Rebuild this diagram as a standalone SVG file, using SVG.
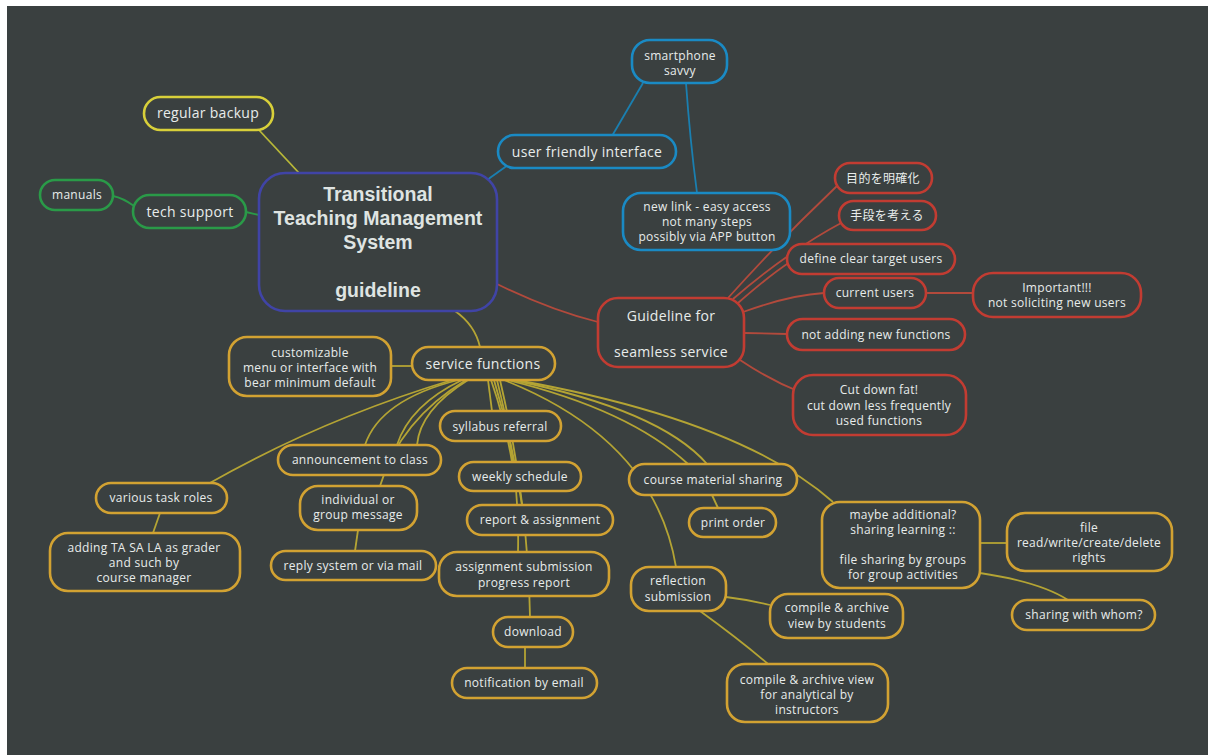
<svg xmlns="http://www.w3.org/2000/svg" width="1208" height="755" viewBox="0 0 1208 755">
<style>
.n rect{fill:#3a4040;stroke-width:2.6}
.y rect{stroke:#d2a232}
.r rect{stroke:#c23c32}
.b rect{stroke:#1a8ac4}
.g rect{stroke:#2a9a48}
.yl rect{stroke:#d8d03a}
.c rect{stroke:#4044a6}
text{font-family:"Open Sans","Noto Sans CJK JP",sans-serif;font-size:12px;fill:#e8eceb;text-anchor:middle;letter-spacing:0.3px}
.big{font-family:"Liberation Sans",Arial,sans-serif;font-size:19.5px;font-weight:bold;letter-spacing:0;fill:#dfe4e2}
.mid{font-size:14px}
#connectors path{fill:none;stroke-width:1.8}
.cy{stroke:#b4a434}
.cr{stroke:#b24a3c;stroke-width:1.4}
.cb{stroke:#1a7fb0}
.cg{stroke:#2a9a48}
.cyl{stroke:#b8b838}
</style>
<rect width="1208" height="755" fill="#ffffff"/>
<rect x="7" y="6" width="1201" height="749" fill="#3a4040"/>
<g id="connectors">
<path class="cyl" d="M258,129 L300,174"/>
<path class="cg" d="M113,196 Q123,198 134,206"/>
<path class="cg" d="M246,212 L259,215"/>
<path class="cb" d="M487,180 L508,165"/>
<path class="cb" d="M612,136 L643,83"/>
<path class="cb" d="M686,83 Q690,140 697,193"/>
<path class="cr" d="M497,284 Q550,310 598,322"/>
<path class="cr" d="M728,298 Q780,240 838,185"/>
<path class="cr" d="M733,299 Q790,250 843,222"/>
<path class="cr" d="M738,303 Q770,275 790,262"/>
<path class="cr" d="M743,312 Q790,295 824,293"/>
<path class="cr" d="M744,333 L787,334"/>
<path class="cr" d="M740,360 Q770,380 800,392"/>
<path class="cr" d="M926,293 L973,293"/>
<path class="cy" d="M455,311 Q475,325 480,347"/>
<path class="cy" d="M391,366 L412,366"/>
<path class="cy" d="M452,380 Q320,420 208,484"/>
<path class="cy" d="M458,380 Q380,400 365,445"/>
<path class="cy" d="M462,380 Q410,405 397,445"/>
<path class="cy" d="M466,380 Q400,420 380,486"/>
<path class="cy" d="M468,380 Q420,410 417,445"/>
<path class="cy" d="M488,380 L492,411"/>
<path class="cy" d="M491,380 Q505,420 512,462"/>
<path class="cy" d="M494,380 Q512,440 522,505"/>
<path class="cy" d="M497,380 Q520,470 518,552"/>
<path class="cy" d="M500,380 Q528,500 530,617"/>
<path class="cy" d="M525,647 L525,668"/>
<path class="cy" d="M508,380 Q630,410 688,464"/>
<path class="cy" d="M512,380 Q660,410 707,464"/>
<path class="cy" d="M712,495 L718,508"/>
<path class="cy" d="M504,380 Q655,440 676,567"/>
<path class="cy" d="M516,380 Q740,420 833,502"/>
<path class="cy" d="M160,513 L153,533"/>
<path class="cy" d="M358,530 L355,551"/>
<path class="cy" d="M726,597 Q750,600 770,605"/>
<path class="cy" d="M700,611 Q740,640 768,664"/>
<path class="cy" d="M980,543 L1007,543"/>
<path class="cy" d="M980,573 Q1040,582 1068,600"/>
</g>
<g id="central" class="n c"><rect x="259" y="173" width="238" height="138" rx="26"/>
<text class="big" x="378" y="201">Transitional</text><text class="big" x="378" y="225">Teaching Management</text><text class="big" x="378" y="249">System</text><text class="big" x="378" y="297">guideline</text></g>
<g id="regular-backup" class="n yl"><rect x="144" y="97" width="129" height="33" rx="16.5"/><text class="mid" x="208" y="118">regular backup</text></g>
<g id="manuals" class="n g"><rect x="40" y="180" width="73" height="30" rx="15"/><text x="77" y="199">manuals</text></g>
<g id="tech-support" class="n g"><rect x="133" y="195" width="113" height="33" rx="16.5"/><text class="mid" x="190" y="217">tech support</text></g>
<g id="user-friendly" class="n b"><rect x="498" y="135" width="178" height="33" rx="16.5"/><text class="mid" x="587" y="157">user friendly interface</text></g>
<g id="smartphone" class="n b"><rect x="632" y="40" width="95" height="43" rx="18"/><text x="680" y="60">smartphone</text><text x="680" y="75">savvy</text></g>
<g id="new-link" class="n b"><rect x="623" y="193" width="167" height="57" rx="18"/><text x="707" y="211">new link - easy access</text><text x="707" y="226">not many steps</text><text x="707" y="241">possibly via APP button</text></g>
<g id="guideline-seamless" class="n r"><rect x="598" y="298" width="146" height="69" rx="20"/><text class="mid" x="671" y="321">Guideline for</text><text class="mid" x="671" y="357">seamless service</text></g>
<g id="mokuteki" class="n r"><rect x="835" y="163" width="97" height="30" rx="15"/><text x="883" y="183">目的を明確化</text></g>
<g id="shudan" class="n r"><rect x="839" y="201" width="97" height="29" rx="14.5"/><text x="887" y="220">手段を考える</text></g>
<g id="define-target" class="n r"><rect x="787" y="244" width="168" height="30" rx="15"/><text x="871" y="263">define clear target users</text></g>
<g id="current-users" class="n r"><rect x="824" y="278" width="102" height="30" rx="15"/><text x="875" y="297">current users</text></g>
<g id="important" class="n r"><rect x="973" y="273" width="168" height="44" rx="20"/><text x="1057" y="292">Important!!!</text><text x="1057" y="307">not soliciting new users</text></g>
<g id="not-adding" class="n r"><rect x="787" y="319" width="178" height="31" rx="15.5"/><text x="876" y="339">not adding new functions</text></g>
<g id="cut-down" class="n r"><rect x="793" y="375" width="173" height="60" rx="20"/><text x="879" y="394">Cut down fat!</text><text x="879" y="410">cut down less frequently</text><text x="879" y="425">used functions</text></g>
<g id="service-functions" class="n y"><rect x="412" y="347" width="143" height="33" rx="16.5"/><text class="mid" x="483" y="369">service functions</text></g>
<g id="customizable" class="n y"><rect x="229" y="337" width="162" height="59" rx="18"/><text x="310" y="357">customizable</text><text x="310" y="372">menu or interface with</text><text x="310" y="387">bear minimum default</text></g>
<g id="syllabus" class="n y"><rect x="440" y="411" width="121" height="30" rx="15"/><text x="500" y="431">syllabus referral</text></g>
<g id="announcement" class="n y"><rect x="278" y="445" width="163" height="30" rx="15"/><text x="360" y="464">announcement to class</text></g>
<g id="weekly" class="n y"><rect x="459" y="462" width="122" height="29" rx="14.5"/><text x="520" y="481">weekly schedule</text></g>
<g id="course-material" class="n y"><rect x="629" y="464" width="168" height="31" rx="15.5"/><text x="713" y="484">course material sharing</text></g>
<g id="task-roles" class="n y"><rect x="96" y="483" width="131" height="30" rx="15"/><text x="161" y="502">various task roles</text></g>
<g id="individual" class="n y"><rect x="300" y="486" width="117" height="44" rx="18"/><text x="358" y="504">individual or</text><text x="358" y="519">group message</text></g>
<g id="report" class="n y"><rect x="467" y="505" width="146" height="30" rx="15"/><text x="540" y="524">report &amp; assignment</text></g>
<g id="print-order" class="n y"><rect x="689" y="508" width="87" height="29" rx="14.5"/><text x="733" y="527">print order</text></g>
<g id="maybe-additional" class="n y"><rect x="822" y="502" width="158" height="86" rx="18"/><text x="903" y="519">maybe additional?</text><text x="903" y="534">sharing learning ::</text><text x="903" y="564">file sharing by groups</text><text x="903" y="579">for group activities</text></g>
<g id="file-rights" class="n y"><rect x="1007" y="513" width="165" height="58" rx="18"/><text x="1089" y="532">file</text><text x="1089" y="547">read/write/create/delete</text><text x="1089" y="562">rights</text></g>
<g id="adding-ta" class="n y"><rect x="50" y="533" width="190" height="58" rx="18"/><text x="144" y="552">adding TA SA LA as grader</text><text x="144" y="567">and such by</text><text x="144" y="582">course manager</text></g>
<g id="reply-system" class="n y"><rect x="271" y="551" width="165" height="29" rx="14.5"/><text x="353" y="570">reply system or via mail</text></g>
<g id="assignment-submission" class="n y"><rect x="439" y="552" width="170" height="44" rx="18"/><text x="524" y="571">assignment submission</text><text x="524" y="587">progress report</text></g>
<g id="reflection" class="n y"><rect x="631" y="567" width="95" height="44" rx="18"/><text x="678" y="585">reflection</text><text x="678" y="601">submission</text></g>
<g id="compile-students" class="n y"><rect x="770" y="594" width="133" height="44" rx="18"/><text x="837" y="612">compile &amp; archive</text><text x="837" y="628">view by students</text></g>
<g id="sharing-whom" class="n y"><rect x="1012" y="600" width="143" height="30" rx="15"/><text x="1084" y="619">sharing with whom?</text></g>
<g id="download" class="n y"><rect x="493" y="617" width="80" height="30" rx="15"/><text x="533" y="636">download</text></g>
<g id="notification" class="n y"><rect x="452" y="668" width="145" height="30" rx="15"/><text x="524" y="687">notification by email</text></g>
<g id="compile-instructors" class="n y"><rect x="727" y="664" width="161" height="58" rx="18"/><text x="807" y="684">compile &amp; archive view</text><text x="807" y="699">for analytical by</text><text x="807" y="714">instructors</text></g>
</svg>
